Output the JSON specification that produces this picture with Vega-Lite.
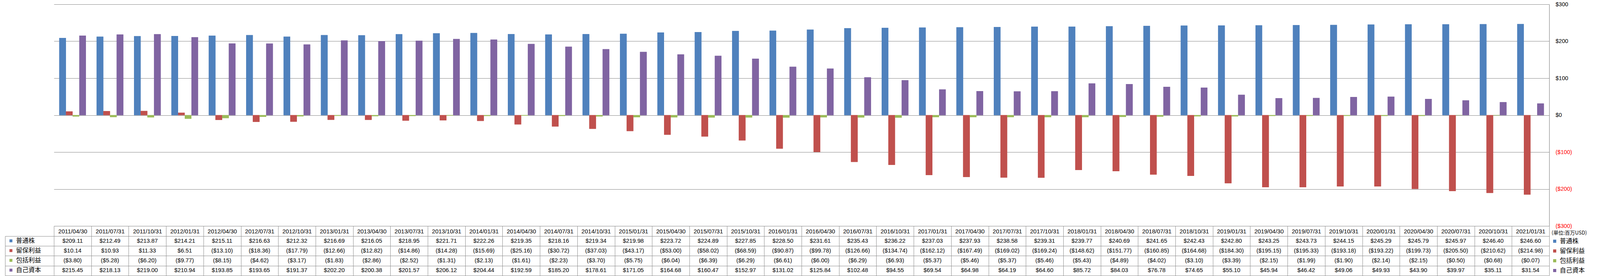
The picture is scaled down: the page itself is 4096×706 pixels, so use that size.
{
  "$schema": "https://vega.github.io/schema/vega-lite/v6.json",
  "width": 3828,
  "height": 567,
  "autosize": {"type": "none"},
  "padding": {"left": 138, "top": 11, "right": 130, "bottom": 128},
  "background": "white",
  "config": {"font": "Liberation Sans, Noto Sans CJK JP", "view": {"stroke": null}},
  "data": {"values": [
    {"d":"2011/04/30","s":"普通株","v":209.11},{"d":"2011/04/30","s":"留保利益","v":10.14},{"d":"2011/04/30","s":"包括利益","v":-3.80},{"d":"2011/04/30","s":"自己資本","v":215.45},
    {"d":"2011/07/31","s":"普通株","v":212.49},{"d":"2011/07/31","s":"留保利益","v":10.93},{"d":"2011/07/31","s":"包括利益","v":-5.28},{"d":"2011/07/31","s":"自己資本","v":218.13},
    {"d":"2011/10/31","s":"普通株","v":213.87},{"d":"2011/10/31","s":"留保利益","v":11.33},{"d":"2011/10/31","s":"包括利益","v":-6.20},{"d":"2011/10/31","s":"自己資本","v":219.00},
    {"d":"2012/01/31","s":"普通株","v":214.21},{"d":"2012/01/31","s":"留保利益","v":6.51},{"d":"2012/01/31","s":"包括利益","v":-9.77},{"d":"2012/01/31","s":"自己資本","v":210.94},
    {"d":"2012/04/30","s":"普通株","v":215.11},{"d":"2012/04/30","s":"留保利益","v":-13.10},{"d":"2012/04/30","s":"包括利益","v":-8.15},{"d":"2012/04/30","s":"自己資本","v":193.85},
    {"d":"2012/07/31","s":"普通株","v":216.63},{"d":"2012/07/31","s":"留保利益","v":-18.36},{"d":"2012/07/31","s":"包括利益","v":-4.62},{"d":"2012/07/31","s":"自己資本","v":193.65},
    {"d":"2012/10/31","s":"普通株","v":212.32},{"d":"2012/10/31","s":"留保利益","v":-17.79},{"d":"2012/10/31","s":"包括利益","v":-3.17},{"d":"2012/10/31","s":"自己資本","v":191.37},
    {"d":"2013/01/31","s":"普通株","v":216.69},{"d":"2013/01/31","s":"留保利益","v":-12.66},{"d":"2013/01/31","s":"包括利益","v":-1.83},{"d":"2013/01/31","s":"自己資本","v":202.20},
    {"d":"2013/04/30","s":"普通株","v":216.05},{"d":"2013/04/30","s":"留保利益","v":-12.82},{"d":"2013/04/30","s":"包括利益","v":-2.86},{"d":"2013/04/30","s":"自己資本","v":200.38},
    {"d":"2013/07/31","s":"普通株","v":218.95},{"d":"2013/07/31","s":"留保利益","v":-14.86},{"d":"2013/07/31","s":"包括利益","v":-2.52},{"d":"2013/07/31","s":"自己資本","v":201.57},
    {"d":"2013/10/31","s":"普通株","v":221.71},{"d":"2013/10/31","s":"留保利益","v":-14.28},{"d":"2013/10/31","s":"包括利益","v":-1.31},{"d":"2013/10/31","s":"自己資本","v":206.12},
    {"d":"2014/01/31","s":"普通株","v":222.26},{"d":"2014/01/31","s":"留保利益","v":-15.69},{"d":"2014/01/31","s":"包括利益","v":-2.13},{"d":"2014/01/31","s":"自己資本","v":204.44},
    {"d":"2014/04/30","s":"普通株","v":219.35},{"d":"2014/04/30","s":"留保利益","v":-25.16},{"d":"2014/04/30","s":"包括利益","v":-1.61},{"d":"2014/04/30","s":"自己資本","v":192.59},
    {"d":"2014/07/31","s":"普通株","v":218.16},{"d":"2014/07/31","s":"留保利益","v":-30.72},{"d":"2014/07/31","s":"包括利益","v":-2.23},{"d":"2014/07/31","s":"自己資本","v":185.20},
    {"d":"2014/10/31","s":"普通株","v":219.34},{"d":"2014/10/31","s":"留保利益","v":-37.03},{"d":"2014/10/31","s":"包括利益","v":-3.70},{"d":"2014/10/31","s":"自己資本","v":178.61},
    {"d":"2015/01/31","s":"普通株","v":219.98},{"d":"2015/01/31","s":"留保利益","v":-43.17},{"d":"2015/01/31","s":"包括利益","v":-5.75},{"d":"2015/01/31","s":"自己資本","v":171.05},
    {"d":"2015/04/30","s":"普通株","v":223.72},{"d":"2015/04/30","s":"留保利益","v":-53.00},{"d":"2015/04/30","s":"包括利益","v":-6.04},{"d":"2015/04/30","s":"自己資本","v":164.68},
    {"d":"2015/07/31","s":"普通株","v":224.89},{"d":"2015/07/31","s":"留保利益","v":-58.02},{"d":"2015/07/31","s":"包括利益","v":-6.39},{"d":"2015/07/31","s":"自己資本","v":160.47},
    {"d":"2015/10/31","s":"普通株","v":227.85},{"d":"2015/10/31","s":"留保利益","v":-68.59},{"d":"2015/10/31","s":"包括利益","v":-6.29},{"d":"2015/10/31","s":"自己資本","v":152.97},
    {"d":"2016/01/31","s":"普通株","v":228.50},{"d":"2016/01/31","s":"留保利益","v":-90.87},{"d":"2016/01/31","s":"包括利益","v":-6.61},{"d":"2016/01/31","s":"自己資本","v":131.02},
    {"d":"2016/04/30","s":"普通株","v":231.61},{"d":"2016/04/30","s":"留保利益","v":-99.78},{"d":"2016/04/30","s":"包括利益","v":-6.00},{"d":"2016/04/30","s":"自己資本","v":125.84},
    {"d":"2016/07/31","s":"普通株","v":235.43},{"d":"2016/07/31","s":"留保利益","v":-126.66},{"d":"2016/07/31","s":"包括利益","v":-6.29},{"d":"2016/07/31","s":"自己資本","v":102.48},
    {"d":"2016/10/31","s":"普通株","v":236.22},{"d":"2016/10/31","s":"留保利益","v":-134.74},{"d":"2016/10/31","s":"包括利益","v":-6.93},{"d":"2016/10/31","s":"自己資本","v":94.55},
    {"d":"2017/01/31","s":"普通株","v":237.03},{"d":"2017/01/31","s":"留保利益","v":-162.12},{"d":"2017/01/31","s":"包括利益","v":-5.37},{"d":"2017/01/31","s":"自己資本","v":69.54},
    {"d":"2017/04/30","s":"普通株","v":237.93},{"d":"2017/04/30","s":"留保利益","v":-167.49},{"d":"2017/04/30","s":"包括利益","v":-5.46},{"d":"2017/04/30","s":"自己資本","v":64.98},
    {"d":"2017/07/31","s":"普通株","v":238.58},{"d":"2017/07/31","s":"留保利益","v":-169.02},{"d":"2017/07/31","s":"包括利益","v":-5.37},{"d":"2017/07/31","s":"自己資本","v":64.19},
    {"d":"2017/10/31","s":"普通株","v":239.31},{"d":"2017/10/31","s":"留保利益","v":-169.24},{"d":"2017/10/31","s":"包括利益","v":-5.46},{"d":"2017/10/31","s":"自己資本","v":64.60},
    {"d":"2018/01/31","s":"普通株","v":239.77},{"d":"2018/01/31","s":"留保利益","v":-148.62},{"d":"2018/01/31","s":"包括利益","v":-5.43},{"d":"2018/01/31","s":"自己資本","v":85.72},
    {"d":"2018/04/30","s":"普通株","v":240.69},{"d":"2018/04/30","s":"留保利益","v":-151.77},{"d":"2018/04/30","s":"包括利益","v":-4.89},{"d":"2018/04/30","s":"自己資本","v":84.03},
    {"d":"2018/07/31","s":"普通株","v":241.65},{"d":"2018/07/31","s":"留保利益","v":-160.85},{"d":"2018/07/31","s":"包括利益","v":-4.02},{"d":"2018/07/31","s":"自己資本","v":76.78},
    {"d":"2018/10/31","s":"普通株","v":242.43},{"d":"2018/10/31","s":"留保利益","v":-164.68},{"d":"2018/10/31","s":"包括利益","v":-3.10},{"d":"2018/10/31","s":"自己資本","v":74.65},
    {"d":"2019/01/31","s":"普通株","v":242.80},{"d":"2019/01/31","s":"留保利益","v":-184.30},{"d":"2019/01/31","s":"包括利益","v":-3.39},{"d":"2019/01/31","s":"自己資本","v":55.10},
    {"d":"2019/04/30","s":"普通株","v":243.25},{"d":"2019/04/30","s":"留保利益","v":-195.15},{"d":"2019/04/30","s":"包括利益","v":-2.15},{"d":"2019/04/30","s":"自己資本","v":45.94},
    {"d":"2019/07/31","s":"普通株","v":243.73},{"d":"2019/07/31","s":"留保利益","v":-195.33},{"d":"2019/07/31","s":"包括利益","v":-1.99},{"d":"2019/07/31","s":"自己資本","v":46.42},
    {"d":"2019/10/31","s":"普通株","v":244.15},{"d":"2019/10/31","s":"留保利益","v":-193.18},{"d":"2019/10/31","s":"包括利益","v":-1.90},{"d":"2019/10/31","s":"自己資本","v":49.06},
    {"d":"2020/01/31","s":"普通株","v":245.29},{"d":"2020/01/31","s":"留保利益","v":-193.22},{"d":"2020/01/31","s":"包括利益","v":-2.14},{"d":"2020/01/31","s":"自己資本","v":49.93},
    {"d":"2020/04/30","s":"普通株","v":245.79},{"d":"2020/04/30","s":"留保利益","v":-199.73},{"d":"2020/04/30","s":"包括利益","v":-2.15},{"d":"2020/04/30","s":"自己資本","v":43.90},
    {"d":"2020/07/31","s":"普通株","v":245.97},{"d":"2020/07/31","s":"留保利益","v":-205.50},{"d":"2020/07/31","s":"包括利益","v":-0.50},{"d":"2020/07/31","s":"自己資本","v":39.97},
    {"d":"2020/10/31","s":"普通株","v":246.40},{"d":"2020/10/31","s":"留保利益","v":-210.62},{"d":"2020/10/31","s":"包括利益","v":-0.68},{"d":"2020/10/31","s":"自己資本","v":35.11},
    {"d":"2021/01/31","s":"普通株","v":246.60},{"d":"2021/01/31","s":"留保利益","v":-214.98},{"d":"2021/01/31","s":"包括利益","v":-0.07},{"d":"2021/01/31","s":"自己資本","v":31.54}
  ]},
  "layer": [
    {
      "mark": {"type": "bar"},
      "encoding": {
        "x": {"field": "d", "type": "nominal", "scale": {"paddingInner": 0, "paddingOuter": 0},
          "axis": {"title": null, "orient": "bottom", "domain": false, "grid": false, "tickBand": "extent", "tickSize": 126.6, "tickColor": "#8c8c8c", "tickWidth": 1, "labelPadding": -113.1, "labelBaseline": "middle", "labelAngle": 0, "labelFont": "Liberation Sans", "labelFontSize": 15, "labelColor": "black", "labelOverlap": false, "labelBound": false}},
        "xOffset": {"field": "s", "type": "nominal", "sort": ["普通株", "留保利益", "包括利益", "自己資本"], "scale": {"paddingInner": 0, "paddingOuter": 0.8}},
        "y": {"field": "v", "type": "quantitative", "scale": {"domain": [-300, 300], "nice": false},
          "axis": {"orient": "right", "title": null, "values": [-300, -200, -100, 0, 100, 200, 300], "format": "($.0f", "ticks": false, "labelPadding": 15.7, "labelFont": "Liberation Sans", "labelFontSize": 14.6, "labelColor": {"condition": {"test": "datum.value < 0", "value": "#ff0000"}, "value": "black"}, "grid": true, "gridColor": "#868686", "gridWidth": 1.2, "domain": true, "domainColor": "#868686", "domainWidth": 1.2}},
        "color": {"field": "s", "type": "nominal", "scale": {"domain": ["普通株", "留保利益", "包括利益", "自己資本"], "range": ["#4F81BD", "#C0504D", "#9BBB59", "#8064A2"]},
          "legend": {"orient": "none", "legendX": 3834, "legendY": 579, "direction": "vertical", "title": "(単位:百万USD)", "titleFont": "Noto Sans CJK JP", "titleFontSize": 13, "titleFontWeight": "normal", "titleColor": "black", "titlePadding": 6, "symbolType": "square", "symbolSize": 64, "symbolStrokeWidth": 0, "labelFont": "Noto Sans CJK JP", "labelFontSize": 16, "labelColor": "black", "labelOffset": 5, "rowPadding": 9, "padding": 0}}
      }
    },
    {
      "mark": {"type": "bar"},
      "encoding": {
        "x": {"field": "d", "type": "nominal",
          "axis": {"title": null, "orient": "bottom", "domain": false, "grid": false, "tickBand": "extent", "tickSize": 126.6, "tickColor": "#8c8c8c", "tickWidth": 1, "labelPadding": -113.1, "labelBaseline": "middle", "labelAngle": 0, "labelFont": "Liberation Sans", "labelFontSize": 15, "labelColor": "black", "labelOverlap": false, "labelBound": false}},
        "xOffset": {"field": "s", "type": "nominal", "sort": ["普通株", "留保利益", "包括利益", "自己資本"]},
        "y": {"field": "v", "type": "quantitative", "scale": {"domain": [-300, 300], "nice": false}, "axis": null},
        "color": {"field": "s", "type": "nominal",
          "legend": {"orient": "none", "legendX": -118, "legendY": 597, "direction": "vertical", "title": null, "symbolType": "square", "symbolSize": 55, "symbolStrokeWidth": 0, "labelFont": "Noto Sans CJK JP", "labelFontSize": 16, "labelColor": "black", "labelOffset": 5, "rowPadding": 9, "padding": 0}}
      }
    },
    {
      "mark": {"type": "text", "fontSize": 14.8, "font": "Liberation Sans", "color": "black", "baseline": "middle", "align": "center"},
      "encoding": {
        "x": {"field": "d", "type": "nominal",
          "axis": {"title": null, "orient": "bottom", "domain": false, "grid": false, "tickBand": "extent", "tickSize": 126.6, "tickColor": "#8c8c8c", "tickWidth": 1, "labelPadding": -113.1, "labelBaseline": "middle", "labelAngle": 0, "labelFont": "Liberation Sans", "labelFontSize": 15, "labelColor": "black", "labelOverlap": false, "labelBound": false}},
        "y": {"field": "s", "type": "nominal", "scale": {"type": "band", "domain": ["普通株", "留保利益", "包括利益", "自己資本"], "range": [593.3, 693.6], "paddingInner": 0, "paddingOuter": 0},
          "axis": {"orient": "left", "title": null, "labels": false, "offset": 125, "tickSize": -125, "tickBand": "extent", "tickColor": "#8c8c8c", "tickWidth": 1, "grid": true, "gridColor": "#8c8c8c", "gridWidth": 1, "domain": true, "domainColor": "#8c8c8c", "domainWidth": 1}},
        "text": {"field": "v", "type": "quantitative", "format": "($.2f"}
      }
    }
  ],
  "resolve": {"scale": {"y": "independent"}, "axis": {"y": "independent"}, "legend": {"color": "independent"}}
}
